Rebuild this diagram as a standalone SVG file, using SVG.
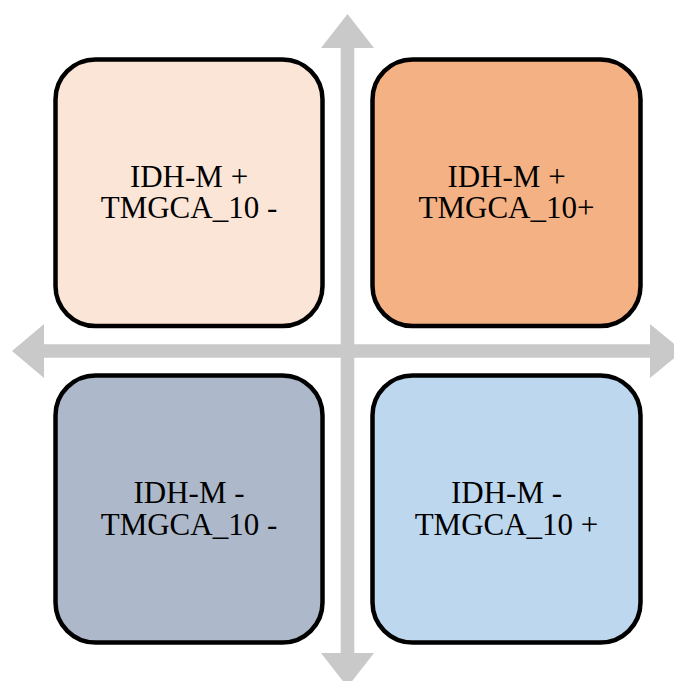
<svg xmlns="http://www.w3.org/2000/svg" width="674" height="681" viewBox="0 0 674 681">
  <style>
    .axis { fill: #c9c9c9; stroke: none; }
    .box { stroke: #000000; stroke-width: 4.5; }
    .label { font-family: "Liberation Serif", "Times New Roman", serif; font-size: 31px; fill: #000000; text-anchor: middle; }
  </style>
  <rect width="674" height="681" fill="#ffffff"/>
  <g id="connectors">
    <!-- vertical double-headed axis -->
    <polygon class="axis" points="321,48 347.5,14 374,48 354.3,48 354.3,653 374,653 347.5,687 321,653 340.7,653 340.7,48"/>
    <!-- horizontal double-headed axis -->
    <polygon class="axis" points="44,324 12,351 44,378 44,357.7 650,357.7 650,378 683,351 650,324 650,344.3 44,344.3"/>
  </g>
  <g id="node-idh-pos-tmgca-neg">
    <rect class="box" x="55.5" y="59.5" width="267" height="266.5" rx="40" ry="40" fill="#fbe5d6"/>
    <text class="label" x="189" y="187">IDH-M +</text>
    <text class="label" x="189" y="218">TMGCA_10 -</text>
  </g>
  <g id="node-idh-pos-tmgca-pos">
    <rect class="box" x="372.5" y="59.5" width="268" height="266.5" rx="40" ry="40" fill="#f4b183"/>
    <text class="label" x="506.5" y="187">IDH-M +</text>
    <text class="label" x="506.5" y="218">TMGCA_10+</text>
  </g>
  <g id="node-idh-neg-tmgca-neg">
    <rect class="box" x="55.5" y="375.5" width="267" height="267" rx="40" ry="40" fill="#adb9ca"/>
    <text class="label" x="189" y="503">IDH-M -</text>
    <text class="label" x="189" y="535">TMGCA_10 -</text>
  </g>
  <g id="node-idh-neg-tmgca-pos">
    <rect class="box" x="372.5" y="375.5" width="268" height="267" rx="40" ry="40" fill="#bdd7ee"/>
    <text class="label" x="506.5" y="503">IDH-M -</text>
    <text class="label" x="506.5" y="535">TMGCA_10 +</text>
  </g>
</svg>
